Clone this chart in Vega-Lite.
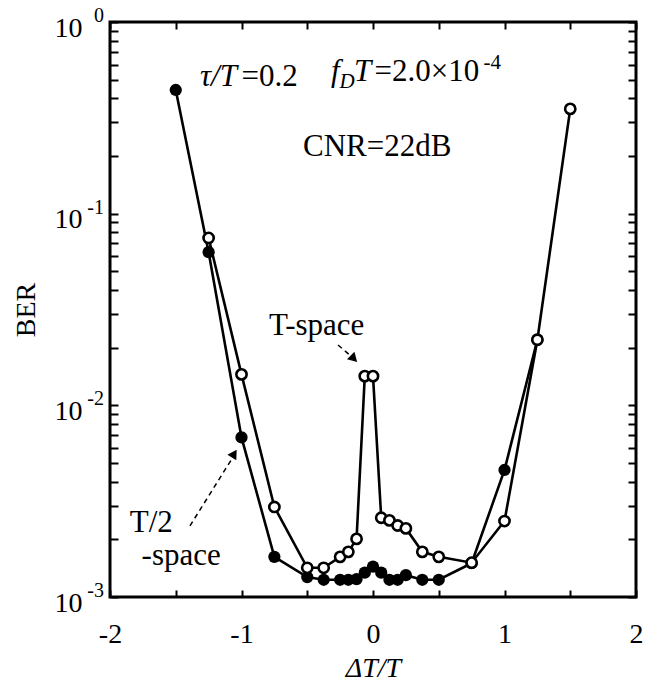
{
  "$schema": "https://vega.github.io/schema/vega-lite/v6.json",
  "width": 526,
  "height": 575,
  "autosize": "none",
  "padding": {"left": 110, "top": 22, "right": 10, "bottom": 87},
  "config": {
    "font": "Liberation Serif",
    "view": {"stroke": "black", "strokeWidth": 3},
    "axis": {"grid": false, "domain": false, "labelFlush": false, "labelOverlap": false, "labelColor": "black", "tickColor": "black", "titleColor": "black", "titleFontWeight": "normal", "labelFont": "Liberation Serif", "titleFont": "Liberation Serif"}
  },
  "datasets": {
    "half": [
      {"x": -1.5, "ber": 0.442},
      {"x": -1.25, "ber": 0.063},
      {"x": -1.0, "ber": 0.0068},
      {"x": -0.75, "ber": 0.00162},
      {"x": -0.5, "ber": 0.00127},
      {"x": -0.375, "ber": 0.00123},
      {"x": -0.25, "ber": 0.00123},
      {"x": -0.1875, "ber": 0.00123},
      {"x": -0.125, "ber": 0.00124},
      {"x": -0.0625, "ber": 0.00134},
      {"x": 0.0, "ber": 0.00144},
      {"x": 0.0625, "ber": 0.00134},
      {"x": 0.125, "ber": 0.00123},
      {"x": 0.1875, "ber": 0.00123},
      {"x": 0.25, "ber": 0.0013},
      {"x": 0.375, "ber": 0.00123},
      {"x": 0.5, "ber": 0.00123},
      {"x": 0.75, "ber": 0.0015},
      {"x": 1.0, "ber": 0.0046},
      {"x": 1.25, "ber": 0.022}
    ],
    "full": [
      {"x": -1.25, "ber": 0.0747},
      {"x": -1.0, "ber": 0.0145},
      {"x": -0.75, "ber": 0.00295},
      {"x": -0.5, "ber": 0.00142},
      {"x": -0.375, "ber": 0.00142},
      {"x": -0.25, "ber": 0.00162},
      {"x": -0.1875, "ber": 0.00172},
      {"x": -0.125, "ber": 0.00201},
      {"x": -0.0625, "ber": 0.0142},
      {"x": 0.0, "ber": 0.0142},
      {"x": 0.0625, "ber": 0.00259},
      {"x": 0.125, "ber": 0.00251},
      {"x": 0.1875, "ber": 0.00236},
      {"x": 0.25, "ber": 0.00228},
      {"x": 0.375, "ber": 0.00172},
      {"x": 0.5, "ber": 0.00162},
      {"x": 0.75, "ber": 0.00151},
      {"x": 1.0, "ber": 0.00249},
      {"x": 1.25, "ber": 0.022},
      {"x": 1.5, "ber": 0.352}
    ],
    "exponents": [
      {"e": "0", "x": -2, "ber": 1},
      {"e": "-1", "x": -2, "ber": 0.1},
      {"e": "-2", "x": -2, "ber": 0.01},
      {"e": "-3", "x": -2, "ber": 0.001}
    ],
    "italicText": [
      {"t": "τ/T", "x": -1.316, "ber": 0.464},
      {"t": "f", "x": -0.319, "ber": 0.492},
      {"t": "T", "x": -0.145, "ber": 0.492}
    ],
    "romanText": [
      {"t": "=0.2", "x": -1.0, "ber": 0.464},
      {"t": "=2.0×10", "x": 0.012, "ber": 0.492},
      {"t": "CNR=22dB", "x": -0.532, "ber": 0.2},
      {"t": "T-space", "x": -0.79, "ber": 0.0233},
      {"t": "T/2", "x": -1.85, "ber": 0.00219},
      {"t": "-space", "x": -1.76, "ber": 0.00147}
    ],
    "subText": [
      {"t": "D", "x": -0.255, "ber": 0.4525}
    ],
    "supText": [
      {"t": "-4", "x": 0.84, "ber": 0.569}
    ],
    "arrows": [
      {"arrow": "a", "x": -1.392, "ber": 0.00235},
      {"arrow": "a", "x": -1.07, "ber": 0.0053},
      {"arrow": "b", "x": -0.266, "ber": 0.02065},
      {"arrow": "b", "x": -0.16, "ber": 0.0179}
    ],
    "headA": [
      {"x": -1.055, "ber": 0.0056}
    ],
    "headB": [
      {"x": -0.145, "ber": 0.0175}
    ]
  },
  "layer": [
    {
      "data": {"name": "half"},
      "mark": {"type": "line", "color": "black", "strokeWidth": 2.6},
      "encoding": {
        "x": {"field": "x", "type": "quantitative", "scale": {"domain": [-2, 2], "nice": false, "zero": false},
          "axis": {"orient": "bottom", "values": [-2, -1.5, -1, -0.5, 0, 0.5, 1, 1.5, 2], "labelExpr": "datum.value % 1 == 0 ? (datum.value < 0 ? '-' + abs(datum.value) : '' + datum.value) : ''", "tickSize": -7, "tickWidth": 2, "labelFontSize": 28, "labelPadding": 30, "title": "ΔT/T", "titleFontSize": 28, "titleFontStyle": "italic", "titlePadding": 6}},
        "y": {"field": "ber", "type": "quantitative", "scale": {"type": "log", "domain": [0.001, 1], "nice": false},
          "axis": {"orient": "left", "values": [0.001, 0.002, 0.003, 0.004, 0.005, 0.006, 0.007, 0.008, 0.009, 0.01, 0.02, 0.03, 0.04, 0.05, 0.06, 0.07, 0.08, 0.09, 0.1, 0.2, 0.3, 0.4, 0.5, 0.6, 0.7, 0.8, 0.9, 1],
            "labelExpr": "datum.value == 1 || datum.value == 0.1 || datum.value == 0.01 || datum.value == 0.001 ? '10' : ''", "labelBaseline": "middle", "labelOffset": 6, "tickSize": -8, "tickWidth": 2, "labelFontSize": 28, "labelPadding": 36, "title": "BER", "titleFontSize": 28, "titlePadding": 14}}
      }
    },
    {
      "data": {"name": "exponents"},
      "mark": {"type": "text", "align": "right", "baseline": "middle", "fontSize": 20, "dx": -6, "dy": -6, "color": "black"},
      "encoding": {
        "x": {"field": "x", "type": "quantitative", "axis": null},
        "y": {"field": "ber", "type": "quantitative", "axis": null},
        "text": {"field": "e"}
      }
    },
    {
      "data": {"name": "half"},
      "mark": {"type": "point", "shape": "circle", "filled": true, "color": "black", "size": 150, "opacity": 1},
      "encoding": {
        "x": {"field": "x", "type": "quantitative", "axis": null},
        "y": {"field": "ber", "type": "quantitative", "axis": null}
      }
    },
    {
      "data": {"name": "full"},
      "mark": {"type": "line", "color": "black", "strokeWidth": 2.6},
      "encoding": {
        "x": {"field": "x", "type": "quantitative",
          "axis": {"orient": "top", "values": [-2, -1.5, -1, -0.5, 0, 0.5, 1, 1.5, 2], "labels": false, "tickSize": -7, "tickWidth": 2, "title": null}},
        "y": {"field": "ber", "type": "quantitative",
          "axis": {"orient": "right", "values": [0.001, 0.002, 0.003, 0.004, 0.005, 0.006, 0.007, 0.008, 0.009, 0.01, 0.02, 0.03, 0.04, 0.05, 0.06, 0.07, 0.08, 0.09, 0.1, 0.2, 0.3, 0.4, 0.5, 0.6, 0.7, 0.8, 0.9, 1], "labels": false, "tickSize": -8, "tickWidth": 2, "title": null}}
      }
    },
    {
      "data": {"name": "full"},
      "mark": {"type": "point", "shape": "circle", "filled": true, "fill": "white", "stroke": "black", "strokeWidth": 2.6, "size": 105, "opacity": 1},
      "encoding": {
        "x": {"field": "x", "type": "quantitative", "axis": null},
        "y": {"field": "ber", "type": "quantitative", "axis": null}
      }
    },
    {
      "data": {"name": "arrows"},
      "mark": {"type": "line", "color": "black", "strokeWidth": 1.5, "strokeDash": [5, 4]},
      "encoding": {
        "x": {"field": "x", "type": "quantitative", "axis": null},
        "y": {"field": "ber", "type": "quantitative", "axis": null},
        "detail": {"field": "arrow"}
      }
    },
    {
      "data": {"name": "headA"},
      "mark": {"type": "point", "shape": "triangle-up", "filled": true, "color": "black", "size": 110, "angle": 32, "opacity": 1},
      "encoding": {
        "x": {"field": "x", "type": "quantitative", "axis": null},
        "y": {"field": "ber", "type": "quantitative", "axis": null}
      }
    },
    {
      "data": {"name": "headB"},
      "mark": {"type": "point", "shape": "triangle-up", "filled": true, "color": "black", "size": 110, "angle": 135, "opacity": 1},
      "encoding": {
        "x": {"field": "x", "type": "quantitative", "axis": null},
        "y": {"field": "ber", "type": "quantitative", "axis": null}
      }
    },
    {
      "data": {"name": "italicText"},
      "mark": {"type": "text", "align": "left", "baseline": "alphabetic", "fontSize": 31, "fontStyle": "italic", "color": "black"},
      "encoding": {
        "x": {"field": "x", "type": "quantitative", "axis": null},
        "y": {"field": "ber", "type": "quantitative", "axis": null},
        "text": {"field": "t"}
      }
    },
    {
      "data": {"name": "romanText"},
      "mark": {"type": "text", "align": "left", "baseline": "alphabetic", "fontSize": 31, "color": "black"},
      "encoding": {
        "x": {"field": "x", "type": "quantitative", "axis": null},
        "y": {"field": "ber", "type": "quantitative", "axis": null},
        "text": {"field": "t"}
      }
    },
    {
      "data": {"name": "subText"},
      "mark": {"type": "text", "align": "left", "baseline": "alphabetic", "fontSize": 21, "fontStyle": "italic", "color": "black"},
      "encoding": {
        "x": {"field": "x", "type": "quantitative", "axis": null},
        "y": {"field": "ber", "type": "quantitative", "axis": null},
        "text": {"field": "t"}
      }
    },
    {
      "data": {"name": "supText"},
      "mark": {"type": "text", "align": "left", "baseline": "alphabetic", "fontSize": 21, "color": "black"},
      "encoding": {
        "x": {"field": "x", "type": "quantitative", "axis": null},
        "y": {"field": "ber", "type": "quantitative", "axis": null},
        "text": {"field": "t"}
      }
    }
  ],
  "resolve": {"axis": {"x": "independent", "y": "independent"}}
}
